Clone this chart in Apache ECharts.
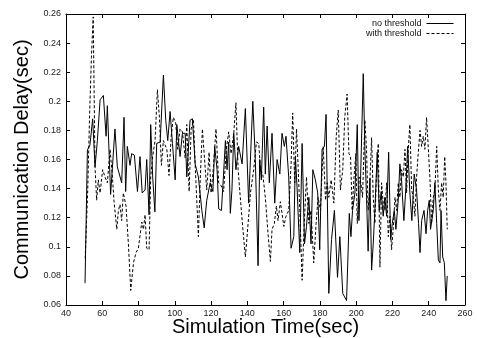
<!DOCTYPE html>
<html>
<head>
<meta charset="utf-8">
<script src="https://cdn.jsdelivr.net/npm/echarts@6/dist/echarts.min.js"></script>
<style>html,body{margin:0;padding:0;background:#fff}#c{width:477px;height:338px}</style>
</head>
<body>
<div id="c"></div>
<script>
var seriesNames = ["no threshold", "with threshold"];
var xTicks = [40, 60, 80, 100, 120, 140, 160, 180, 200, 220, 240, 260];
var yTicks = [0.06, 0.08, 0.1, 0.12, 0.14, 0.16, 0.18, 0.2, 0.22, 0.24, 0.26];

var noThreshTime = [50.5,51.8,53.2,54.7,56,57.3,58.8,60.6,62.1,62.8,64.6,67,68.3,70.7,72,72.9,73.8,75.3,76.2,77.7,79.4,80.8,82,83.6,84.5,85.8,86.7,87.8,89,90,91.9,93.7,95,96.1,97.4,98.7,100.2,101.1,102.9,104.2,105.7,106.6,108.4,109.7,111.2,113,114.9,116.2,117.6,119.5,121,122,
123.3,124.2,125.7,126.6,127.9,128.8,129.7,130.6,131.5,132.5,133.7,135.2,137.1,138.9,140.7,143,144.4,145.9,146.8,147.7,149,149.9,150.9,152.1,153.6,155.1,156.4,157.9,159.1,160.4,161.3,162.8,164.1,165.6,166.5,167.4,168.9,170.2,171.5,172.6,173.9,175.1,176.1,177.5,178.8,179.9,181.2,182.5,183.4,184.9,186.4,188,189.7,191,192.6,
194.7,196.2,197.1,198,199.3,200.6,201.5,202.4,203.9,204.8,205.7,206.6,207.6,208.5,209.4,210.3,211.6,212.7,213.8,214.9,215.8,216.8,217.9,219,219.9,221,221.9,223.2,224.1,225,226.3,227.4,228.4,229.6,230.7,232,233.3,234.4,235.2,236.1,237.4,238.5,239.4,240.3,241,242.5,243.4,244.4,245.3,246.2,246.8,247.7,248.6,249.5,250.2];
var noThreshDelay = [0.075,0.1665,0.170,0.188,0.155,0.173,0.201,0.204,0.176,0.197,0.136,0.181,0.155,0.144,0.189,0.138,0.169,0.156,0.164,0.163,0.138,0.162,0.137,0.139,0.160,0.122,0.184,0.148,0.124,0.171,0.172,0.218,0.187,0.173,0.193,0.171,0.146,0.184,0.162,0.178,0.178,0.148,0.187,0.188,0.157,0.148,0.125,0.113,0.132,0.144,0.138,0.169,
0.153,0.126,0.125,0.144,0.173,0.153,0.172,0.123,0.139,0.178,0.153,0.169,0.157,0.195,0.130,0.200,0.160,0.087,0.160,0.146,0.196,0.150,0.183,0.144,0.178,0.130,0.160,0.150,0.178,0.169,0.176,0.148,0.099,0.107,0.162,0.141,0.096,0.171,0.102,0.114,0.134,0.102,0.153,0.146,0.137,0.098,0.167,0.169,0.191,0.068,0.105,0.125,0.079,0.107,0.068,
0.063,0.123,0.107,0.125,0.137,0.184,0.118,0.146,0.219,0.167,0.134,0.097,0.147,0.084,0.102,0.125,0.165,0.125,0.138,0.121,0.134,0.121,0.165,0.105,0.116,0.125,0.112,0.132,0.157,0.146,0.118,0.141,0.169,0.137,0.118,0.150,0.139,0.116,0.096,0.118,0.125,0.109,0.125,0.132,0.112,0.125,0.144,0.116,0.091,0.089,0.125,0.093,0.089,0.063,0.080];

var withThreshTime = [50.6,52,53,54,55,56,56.9,57.8,58.8,60.2,61.5,62.8,64.3,65.6,66.5,68,68.9,69.8,70.7,71.6,73.1,74.4,75.7,77.2,78.6,79.9,80.8,81.8,82.7,83.6,84.5,85.8,86.7,87.8,89.1,90.4,91.5,92.6,93.7,94.6,95.6,96.8,98,99.2,100.5,101.6,102.9,104.2,105.7,106.6,107.9,109,110.3,111.2,113,114,115.2,116.7,117.6,118.9,120,121.3,
122.7,124.2,125.5,126.9,128.4,129.7,131,132.5,133.7,134.9,136.1,137.4,138.9,140.4,141.7,143.5,145,146.3,147.2,148.5,149.9,151.4,152.7,153.6,154.9,156,156.9,158.2,159.1,160.1,161.3,162.8,164.1,165,166.1,167.1,168,168.9,170.2,171.3,172.6,173.9,175.1,176.6,177.9,179,180.3,181.8,183.1,184,184.9,186.2,187.7,189,190.1,191.3,192.6,193.7,195,
196,196.9,197.8,198.7,199.8,200.6,201.7,202.6,203.5,204.8,205.7,206.6,207.6,208.5,209.4,210.3,211.2,212.2,213.1,214,214.9,215.8,216.8,217.7,218.6,219.5,220.4,221.4,222.3,223.2,224.1,225,226,226.9,227.8,228.7,229.6,230.6,231.5,232.4,233.3,234.2,235.2,236.1,237,237.9,238.8,239.8,240.7,241.6,242.5,243.4,244.4,245.3,246.2,247.1,248,248.8,249.5,250.2];
var withThreshDelay = [0.092,0.14,0.19,0.23,0.258,0.155,0.132,0.146,0.137,0.153,0.148,0.144,0.167,0.148,0.131,0.112,0.125,0.129,0.118,0.137,0.128,0.102,0.070,0.089,0.096,0.099,0.099,0.117,0.112,0.122,0.099,0.098,0.148,0.162,0.173,0.208,0.189,0.156,0.173,0.170,0.167,0.149,0.176,0.189,0.185,0.167,0.181,0.179,0.161,0.184,0.138,0.181,0.187,0.157,0.107,0.146,0.181,0.155,0.139,0.165,0.137,0.155,
0.181,0.144,0.142,0.138,0.167,0.179,0.164,0.178,0.199,0.153,0.134,0.114,0.093,0.116,0.137,0.153,0.172,0.171,0.153,0.150,0.134,0.109,0.090,0.112,0.116,0.128,0.118,0.131,0.123,0.114,0.121,0.125,0.157,0.192,0.144,0.181,0.155,0.125,0.077,0.114,0.148,0.116,0.125,0.089,0.116,0.134,0.125,0.169,0.132,0.144,0.134,0.146,0.130,0.176,0.194,0.139,0.153,0.189,0.205,
0.164,0.162,0.125,0.146,0.164,0.116,0.148,0.144,0.134,0.187,0.167,0.125,0.146,0.175,0.134,0.116,0.150,0.171,0.086,0.144,0.130,0.125,0.144,0.107,0.121,0.098,0.112,0.134,0.125,0.144,0.134,0.153,0.148,0.167,0.137,0.167,0.184,0.139,0.134,0.121,0.148,0.164,0.180,0.169,0.176,0.167,0.189,0.167,0.146,0.116,0.134,0.139,0.169,0.139,0.125,0.144,0.134,0.162,0.144,0.112];

function pairs(t, v) { return t.map(function (x, i) { return [x, v[i]]; }); }

var chart = echarts.init(document.getElementById('c'), null, {renderer: 'canvas'});
var labelFont = {color: '#222', fontSize: 9, fontFamily: 'Liberation Sans, Arial, sans-serif'};
var axisCommon = {
  axisLine: {show: true, onZero: false, lineStyle: {color: '#000', width: 1}},
  axisTick: {show: true, inside: true, length: 4, lineStyle: {color: '#000'}},
  splitLine: {show: false}
};
chart.setOption({
  animation: false,
  backgroundColor: '#fff',
  grid: {left: 66, right: 12, top: 14, bottom: 33, containLabel: false, outerBoundsMode: 'none'},
  legend: {
    data: seriesNames,
    orient: 'vertical',
    right: 18,
    top: 14,
    align: 'right',
    itemGap: 1,
    itemWidth: 27,
    itemHeight: 9,
    itemStyle: {opacity: 0},
    lineStyle: {width: 1},
    textStyle: {color: '#111', fontSize: 9, fontFamily: 'Liberation Sans, Arial, sans-serif'}
  },
  xAxis: [
    Object.assign({
      type: 'value', min: xTicks[0], max: xTicks[xTicks.length - 1], interval: 20, position: 'bottom',
      name: 'Simulation Time(sec)', nameLocation: 'middle', nameGap: 12, nameMoveOverlap: false,
      nameTextStyle: {color: '#000', fontSize: 20, fontFamily: 'Liberation Sans, Arial, sans-serif'},
      axisLabel: Object.assign({margin: 4}, labelFont)
    }, axisCommon),
    Object.assign({
      type: 'value', min: xTicks[0], max: xTicks[xTicks.length - 1], interval: 20, position: 'top',
      axisLabel: {show: false}
    }, axisCommon)
  ],
  yAxis: [
    Object.assign({
      type: 'value', min: yTicks[0], max: yTicks[yTicks.length - 1], interval: 0.02, position: 'left',
      name: 'Communication Delay(sec)', nameLocation: 'middle', nameGap: 34, nameMoveOverlap: false,
      nameTextStyle: {color: '#000', fontSize: 20, fontFamily: 'Liberation Sans, Arial, sans-serif'},
      axisLabel: Object.assign({margin: 5}, labelFont)
    }, axisCommon),
    Object.assign({
      type: 'value', min: yTicks[0], max: yTicks[yTicks.length - 1], interval: 0.02, position: 'right',
      axisLabel: {show: false}
    }, axisCommon)
  ],
  series: [
    {
      name: seriesNames[0], type: 'line', xAxisIndex: 0, yAxisIndex: 0,
      data: pairs(noThreshTime, noThreshDelay),
      symbol: 'none', showSymbol: false,
      lineStyle: {color: '#000', width: 1, type: 'solid'},
      itemStyle: {color: '#000'}
    },
    {
      name: seriesNames[1], type: 'line', xAxisIndex: 0, yAxisIndex: 0,
      data: pairs(withThreshTime, withThreshDelay),
      symbol: 'none', showSymbol: false,
      lineStyle: {color: '#000', width: 1, type: [3, 2]},
      itemStyle: {color: '#000'}
    }
  ]
});
</script>
</body>
</html>
